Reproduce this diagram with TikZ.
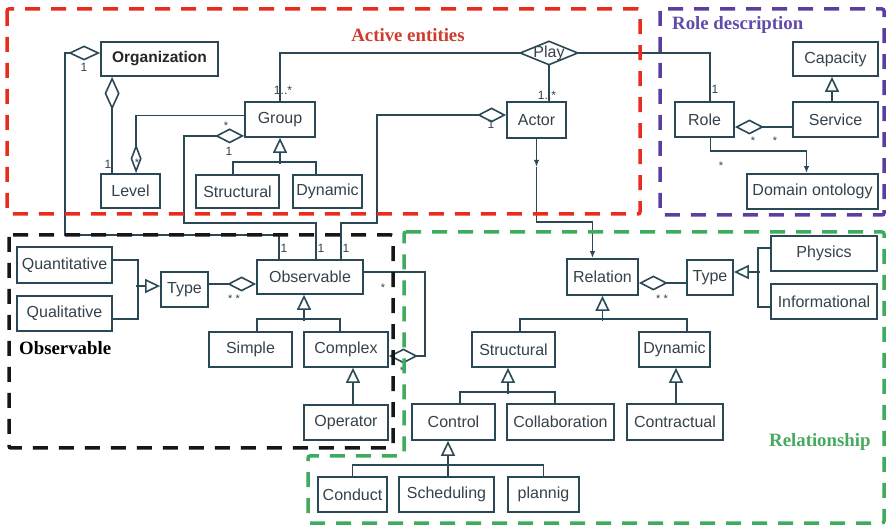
\documentclass[tikz,border=0pt]{standalone}
\usepackage{fontspec}
\setmainfont{Liberation Serif}
\setsansfont{Liberation Sans}
\usetikzlibrary{arrows.meta,calc}
\definecolor{lineC}{RGB}{42,72,86}
\definecolor{textC}{RGB}{52,66,76}
\definecolor{frRed}{RGB}{232,45,30}
\definecolor{frPurple}{RGB}{92,62,160}
\definecolor{frGreen}{RGB}{62,172,92}
\definecolor{frBlack}{RGB}{22,22,22}
\definecolor{tRed}{RGB}{205,60,45}
\definecolor{tPurple}{RGB}{100,75,170}
\definecolor{tGreen}{RGB}{70,170,95}
\begin{document}
\begin{tikzpicture}[x=1pt,y=-1pt,
  cls/.style={draw=lineC, line width=1.8pt, fill=white, inner sep=0pt, text=textC,
    font=\sffamily\fontsize{16}{18}\selectfont},
  conn/.style={draw=lineC, line width=1.6pt},
  agg/.style={conn, -{Diamond[open, length=#1, width=15pt]}},
  agg/.default=29pt,
  gen/.style={conn, -{Triangle[open, length=15pt, width=14pt]}},
  arr/.style={conn, -{Latex[length=7pt, width=5.5pt]}},
  mult/.style={text=textC, inner sep=0pt, font=\sffamily\fontsize{12}{12}\selectfont},
  star/.style={mult, yshift=-3pt, font=\sffamily\fontsize{11}{11}\selectfont},
  frame/.style={line width=3.5pt, dash pattern=on 15pt off 11pt, rounded corners=2pt},
  ttl/.style={inner sep=0pt, font=\bfseries\fontsize{18.8}{20}\selectfont},
]
\fill[white] (0,0) rectangle (887,529);
\useasboundingbox (0,0) rectangle (887,529);

% ---------- Active entities ----------
\node[cls, minimum width=117pt, minimum height=34pt, text=black!85,
  font=\sffamily\bfseries\fontsize{15.5}{18}\selectfont] (org) at (159.5,59) {Organization};
\node[cls, minimum width=59pt, minimum height=34pt] (level) at (130.5,191) {Level};
\node[cls, minimum width=70pt, minimum height=35pt] (group) at (280,119.5) {Group};
\node[cls, minimum width=83pt, minimum height=33pt] (gstruct) at (237.5,191.5) {Structural};
\node[cls, minimum width=69pt, minimum height=33pt] (gdyn) at (327.5,191.5) {Dynamic};
\node[cls, minimum width=59pt, minimum height=36pt] (actor) at (536.5,120) {Actor};
\node[inner sep=0pt, minimum width=57pt, minimum height=23pt, text=textC,
  font=\sffamily\fontsize{16}{18}\selectfont] (play) at (549,53) {Play};
\draw[conn] (play.west) -- (play.north) -- (play.east) -- (play.south) -- cycle;

% ---------- Role description ----------
\node[cls, minimum width=59pt, minimum height=35pt] (role) at (704.5,119.5) {Role};
\node[cls, minimum width=85pt, minimum height=34pt] (capacity) at (835.5,59) {Capacity};
\node[cls, minimum width=85pt, minimum height=35pt] (service) at (835.5,119.5) {Service};
\node[cls, minimum width=131pt, minimum height=35pt] (domain) at (812.5,191.5) {Domain ontology};

% ---------- Observable ----------
\node[cls, minimum width=95pt, minimum height=36pt] (quant) at (64.5,265) {Quantitative};
\node[cls, minimum width=95pt, minimum height=35pt] (qual) at (64.5,313.5) {Qualitative};
\node[cls, minimum width=47pt, minimum height=35pt] (otype) at (184.5,289.5) {Type};
\node[cls, minimum width=106pt, minimum height=34pt] (observable) at (310,277) {Observable};
\node[cls, minimum width=83pt, minimum height=35pt] (simple) at (250.5,349.5) {Simple};
\node[cls, minimum width=84pt, minimum height=35pt] (complex) at (346,349.5) {Complex};
\node[cls, minimum width=84pt, minimum height=35pt] (operator) at (346,422.5) {Operator};

% ---------- Relationship ----------
\node[cls, minimum width=71pt, minimum height=36pt] (relation) at (602.5,277) {Relation};
\node[cls, minimum width=46pt, minimum height=35pt] (rtype) at (710,277.5) {Type};
\node[cls, minimum width=106pt, minimum height=35pt] (physics) at (824,253.5) {Physics};
\node[cls, minimum width=106pt, minimum height=35pt] (informational) at (824,301.5) {Informational};
\node[cls, minimum width=83pt, minimum height=35pt] (rstruct) at (513.5,349.5) {Structural};
\node[cls, minimum width=71pt, minimum height=35pt] (rdyn) at (674.5,349.5) {Dynamic};
\node[cls, minimum width=83pt, minimum height=36pt] (control) at (453.5,422) {Control};
\node[cls, minimum width=107pt, minimum height=36pt] (collab) at (560.5,422) {Collaboration};
\node[cls, minimum width=96pt, minimum height=36pt] (contract) at (675,422) {Contractual};
\node[cls, minimum width=69pt, minimum height=35pt] (conduct) at (352.5,494.5) {Conduct};
\node[cls, minimum width=95pt, minimum height=35pt] (sched) at (446.5,494.5) {Scheduling};
\node[cls, minimum width=71pt, minimum height=35pt] (plannig) at (543.5,494.5) {plannig};

% attachment points on top of Observable
\coordinate (obsA) at ($(observable.north west)+(23,0)$);
\coordinate (obsB) at ($(observable.north west)+(60,0)$);
\coordinate (obsC) at ($(observable.north west)+(85,0)$);

% ---------- Play association ----------
\draw[conn] (group.north) |- (play.west);
\draw[conn] (play.east) -| ($(role.north)+(5.5,0)$);
\draw[conn] (play.south) -- (play.south |- actor.north);
\node[mult] at (283,90) {1..*};
\node[mult] at (715,89) {1};
\node[mult] at (547,95) {1..*};

% ---------- aggregations towards Observable ----------
\draw[agg=32pt] (obsA) |- (65,235) |- ($(org.west)+(0,-6)$);
\draw[agg] (obsB) |- (184,223) |- ($(group.south west)+(0,-2)$);
\draw[agg] (obsC) |- (377,223) |- ($(actor.west)+(0,-5)$);
\node[mult] at (84,67) {1};
\node[star] at (226,123) {*};
\node[mult] at (229,151) {1};
\node[mult] at (491,124) {1};
\node[mult] at (284,248) {1};
\node[mult] at (321,248) {1};
\node[mult] at (346,248) {1};

% ---------- Organization / Level / Group ----------
\draw[agg=33pt] ($(level.north west)+(12,0)$) -- ($(org.south west)+(12,0)$);
\node[mult] at (108,164) {1};
\draw[conn, -{Diamond[open, length=29pt, width=11pt]}]
  ($(group.west)+(0,-4)$) -| ($(level.north west)+(36,0)$);
\node[star] at (137,160) {*};
\draw[conn] ($(gstruct.north)+(-4.5,0)$) -- ++(0,-12) -| ($(gdyn.north)+(-11.5,0)$);
\draw[gen] ($(group.south)+(0,26)$) -- (group.south);

% ---------- Actor to Relation ----------
\draw[arr] (actor.south) -- ($(actor.south)+(0,28)$);
\draw[arr] ($(actor.south)+(0,28)$) |- ($(relation.north)+(-10,-36)$) -- ($(relation.north)+(-10,0)$);

% ---------- Role description links ----------
\draw[agg] ($(service.west)+(0,7.5)$) -- ($(role.east)+(0,7.5)$);
\node[star] at (753,138) {*};
\node[star] at (775,138) {*};
\draw[gen] ($(service.north)+(-3.5,0)$) -- ($(capacity.south)+(-3.5,0)$);
\draw[arr] ($(role.south)+(6,0)$) |- ($(domain.north)+(-6,-22)$) -- ($(domain.north)+(-6,0)$);
\node[star] at (721,163) {*};

% ---------- Observable links ----------
\draw[conn] ($(quant.east)+(0,-5)$) -| ($(qual.east)+(25,5.5)$) -- ($(qual.east)+(0,5.5)$);
\draw[gen] ($(otype.west)+(-24,-3.5)$) -- ($(otype.west)+(0,-3.5)$);
\draw[agg] ($(otype.east)+(0,-5.5)$) -- ($(observable.west)+(0,7)$);
\node[star] at (234,296) {* *};
\draw[conn] ($(simple.north)+(6.5,0)$) -- ++(0,-12) -| ($(complex.north)+(-6,0)$);
\draw[gen] ($(observable.south)+(-6,26)$) -- ($(observable.south)+(-6,0)$);
\draw[gen] ($(operator.north)+(7,0)$) -- ($(complex.south)+(7,0)$);
\draw[agg] ($(observable.east)+(0,-5)$) -| ($(complex.east)+(36,6.5)$) -- ($(complex.east)+(0,6.5)$);
\node[star] at (383,285) {*};
\node[star] at (402,368) {*};

% ---------- Relationship links ----------
\draw[agg] ($(rtype.west)+(0,5.5)$) -- ($(relation.east)+(0,6)$);
\node[star] at (662,296) {* *};
\draw[conn] ($(physics.west)+(0,-5.5)$) -| ($(informational.west)+(-12,5.5)$) -- ($(informational.west)+(0,5.5)$);
\draw[gen] ($(rtype.east)+(26,-5.5)$) -- ($(rtype.east)+(0,-5.5)$);
\draw[conn] ($(rstruct.north)+(6.5,0)$) -- ++(0,-12) -| ($(rdyn.north)+(12.5,0)$);
\draw[gen] ($(relation.south)+(0,25)$) -- (relation.south);
\draw[conn] ($(control.north)+(6.5,0)$) -- ++(0,-11) -| ($(collab.north)+(-5.5,0)$);
\draw[gen] ($(rstruct.south)+(-5.5,26)$) -- ($(rstruct.south)+(-5.5,0)$);
\draw[gen] ($(contract.north)+(1,0)$) -- ($(contract.north |- rdyn.south)+(1,0)$);
\draw[conn] (conduct.north) -- ++(0,-11) -| (plannig.north);
\draw[gen] ($(sched.north)+(1.5,0)$) -- ($(control.south)+(-5.5,0)$);

% ---------- package frames ----------
\draw[frame, frRed] (7,9) rectangle (640,214);
\draw[frame, frPurple] (660,9) rectangle (884,215);
\draw[frame, frBlack] (9,235) rectangle (393,448);
\draw[frame, frGreen] (404,232) -- (884,232) -- (884,523) -- (308,523) -- (308,456) -- (404,456) -- cycle;

\node[ttl, text=tRed] at (408,35) {Active entities};
\node[ttl, text=tPurple, anchor=west] at (672,25) {Role description};
\node[ttl, text=black, anchor=west] at (19,348) {Observable};
\node[ttl, text=tGreen, anchor=west] at (769,442) {Relationship};
\end{tikzpicture}
\end{document}
